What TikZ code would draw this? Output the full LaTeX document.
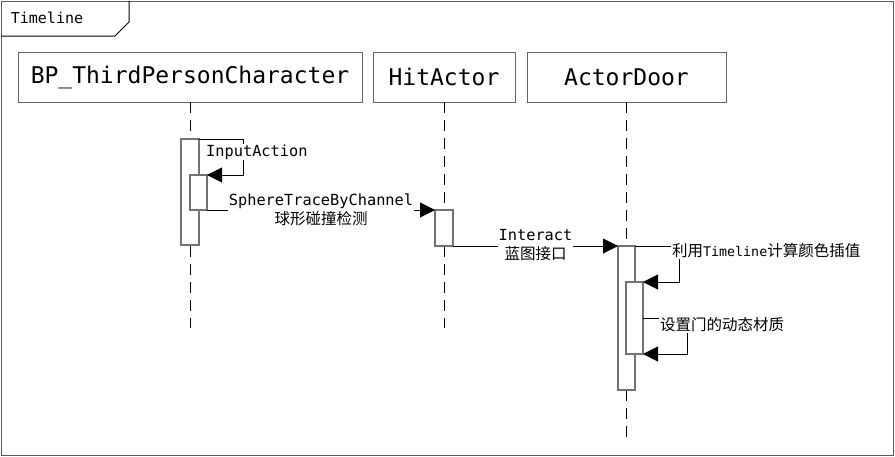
\documentclass[tikz,border=0pt]{standalone}
\usepackage{fontspec}
\setmonofont{DejaVu Sans Mono}
\newfontfamily\cjk{Noto Sans CJK SC}
\usetikzlibrary{arrows.meta}
\definecolor{framegray}{RGB}{90,90,90}
\definecolor{boxgray}{RGB}{100,100,100}
\definecolor{actgray}{RGB}{115,115,115}
\begin{document}
\begin{tikzpicture}[x=1pt,y=-1pt,
  head/.style={draw=boxgray, line width=1pt, fill=white, minimum height=50pt, inner sep=0pt, outer sep=0pt,
    font=\ttfamily\fontsize{23}{26}\selectfont},
  act/.style={draw=actgray, line width=1.2pt, fill=white, inner sep=0pt, outer sep=0pt, anchor=north},
  lifeline/.style={draw=black, line width=1pt, dash pattern=on 11pt off 7pt},
  msg/.style={draw=black, line width=1pt, -{Triangle[length=15pt,width=15pt]}},
  selfmsg/.style={draw=black, line width=1pt, -{Triangle[length=15pt,width=15pt]}},
  lbl/.style={fill=white, inner sep=1pt, font=\ttfamily\fontsize{15.3}{18}\selectfont},
  cjklbl/.style={fill=white, inner sep=1pt, font=\cjk\fontsize{15.5}{18}\selectfont},
  twolbl/.style={fill=white, inner sep=1pt, align=center, font=\fontsize{15.3}{19}\selectfont},
]
\useasboundingbox (0,0) rectangle (895,456);
% frame
\draw[framegray, line width=1pt] (1,1) rectangle (893,455);
\node[inner sep=0pt] (framelbl) at (47,18) {\ttfamily\fontsize{15}{18}\selectfont Timeline};
\draw[black, line width=1pt] (1,36) -- (115,36) -- (129,22) -- (129,1);

% heads
\node[head, minimum width=344pt] (bp) at (190,77) {BP\textunderscore ThirdPersonCharacter};
\node[head, minimum width=142pt] (hit) at (444,77) {HitActor};
\node[head, minimum width=199pt] (door) at (626.5,77) {ActorDoor};

% lifelines
\coordinate (bpEnd) at (190,328);
\coordinate (hitEnd) at (444,328);
\coordinate (doorEnd) at (626.5,437);
\draw[lifeline] (bp.south) -- (bpEnd);
\draw[lifeline] (hit.south) -- (hitEnd);
\draw[lifeline] (door.south) -- (doorEnd);

% activations
\node[act, minimum width=18pt, minimum height=106pt] (bpA) at (190,139) {};
\node[act, minimum width=17pt, minimum height=35pt] (bpB) at (198.5,175) {};
\node[act, minimum width=18pt, minimum height=36pt] (hitA) at (444,210) {};
\node[act, minimum width=17pt, minimum height=144pt] (doorA) at (626.5,246) {};
\node[act, minimum width=17pt, minimum height=72pt] (doorB) at (634.5,282) {};

% messages
\draw[selfmsg] (bpA.north east) -- ++(44,0) |- (bpB.north east);
\draw[msg] (bpB.south east) -- (hitA.north west);
\draw[msg] (hitA.south east) -- (hitA.south east -| doorA.north west);
\draw[selfmsg] (doorA.north east) -- ++(44,0) |- (doorB.north east);
\draw[selfmsg] (doorB.east) -- ++(44,0) |- (doorB.south east);

% labels
\node[lbl, anchor=west] (lInput) at (205,152) {InputAction};
\node[twolbl] (lSphere) at (321,210) {{\ttfamily SphereTraceByChannel}\\{\cjk\fontsize{15.5}{19}\selectfont 球形碰撞检测}};
\node[twolbl] (lInteract) at (535.5,245) {{\ttfamily Interact}\\{\cjk\fontsize{15.5}{19}\selectfont 蓝图接口}};
\node[cjklbl, anchor=west] (lTimeline) at (671,251) {利用{\ttfamily\fontsize{13.3}{16}\selectfont Timeline}计算颜色插值};
\node[cjklbl, anchor=west] (lMat) at (659,324.5) {设置门的动态材质};
\end{tikzpicture}
\end{document}
